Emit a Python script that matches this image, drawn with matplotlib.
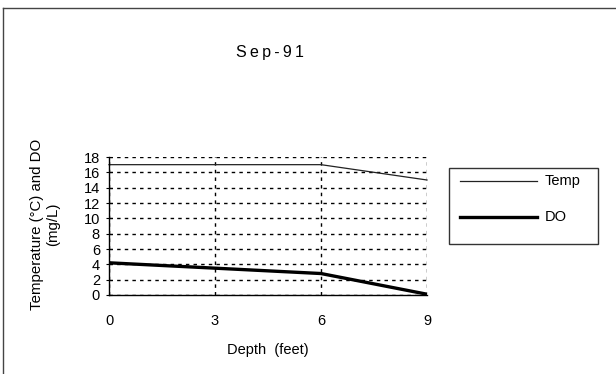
import matplotlib
matplotlib.use("Agg")
import matplotlib.pyplot as plt
from matplotlib.lines import Line2D
from matplotlib.patches import Rectangle

depth = [0, 3, 6, 9]
temp = [17, 17, 17, 15]
do = [4.2, 3.5, 2.8, 0.1]
xticks = [0, 3, 6, 9]
yticks = list(range(0, 19, 2))

plt.rcParams['font.family'] = ['Liberation Sans', 'DejaVu Sans']

fig = plt.figure(figsize=(6.16, 3.74), dpi=100)
W, H = 616, 374
ax = fig.add_axes([109 / W, 1 - 295 / H, (427 - 109) / W, (295 - 157) / H])

ax.plot(depth, temp, color='#222222', lw=0.9, label='Temp', clip_on=False)
ax.plot(depth, do, color='black', lw=2.4, label='DO', clip_on=False, solid_capstyle='butt')

ax.set_xlim(0, 9)
ax.set_ylim(0, 18)
ax.set_xticks(xticks)
ax.set_yticks(yticks)
ax.set_xticklabels([str(v) for v in xticks], fontsize=10.5)
ax.set_yticklabels([str(v) for v in yticks], fontsize=10.5)
ax.grid(True, color='black', linestyle=(0, (2.5, 3)), lw=1.0)
for s in ['top', 'right']:
    ax.spines[s].set_visible(False)
ax.spines['left'].set_linewidth(1.0)
ax.spines['bottom'].set_linewidth(1.0)
ax.tick_params(axis='y', direction='inout', length=5, width=0.8, pad=4)
ax.tick_params(axis='x', direction='inout', length=0, pad=14)

fig.text(270 / W, 1 - 52 / H, '\u2009'.join('Sep-91'), ha='center', va='center', fontsize=11.5)
fig.text(268 / W, 1 - 350 / H, 'Depth  (feet)', ha='center', va='center', fontsize=10.5)
fig.text(45 / W, 1 - 224 / H, 'Temperature (°C) and DO\n(mg/L)', ha='center', va='center',
         rotation=90, fontsize=10.8, linespacing=1.25)

# legend box
fig.patches.append(Rectangle((449 / W, 1 - 244 / H), (598 - 449) / W, (244 - 168) / H,
                             transform=fig.transFigure, fill=False, edgecolor='#333333', lw=1.0))
fig.lines.append(Line2D([460 / W, 537 / W], [1 - 181 / H, 1 - 181 / H], transform=fig.transFigure,
                        color='#222222', lw=0.9))
fig.lines.append(Line2D([460 / W, 537 / W], [1 - 217 / H, 1 - 217 / H], transform=fig.transFigure,
                        color='black', lw=2.4))
fig.text(545 / W, 1 - 181 / H, 'Temp', ha='left', va='center', fontsize=10.5)
fig.text(545 / W, 1 - 217 / H, 'DO', ha='left', va='center', fontsize=10.5)

# outer frame (top and left edges)
fig.lines.append(Line2D([3 / W, 3 / W], [0, 1 - 8 / H], transform=fig.transFigure, color='#444444', lw=1.0))
fig.lines.append(Line2D([3 / W, 1], [1 - 8 / H, 1 - 8 / H], transform=fig.transFigure, color='#444444', lw=1.0))

fig.savefig('out.png', dpi=100)
